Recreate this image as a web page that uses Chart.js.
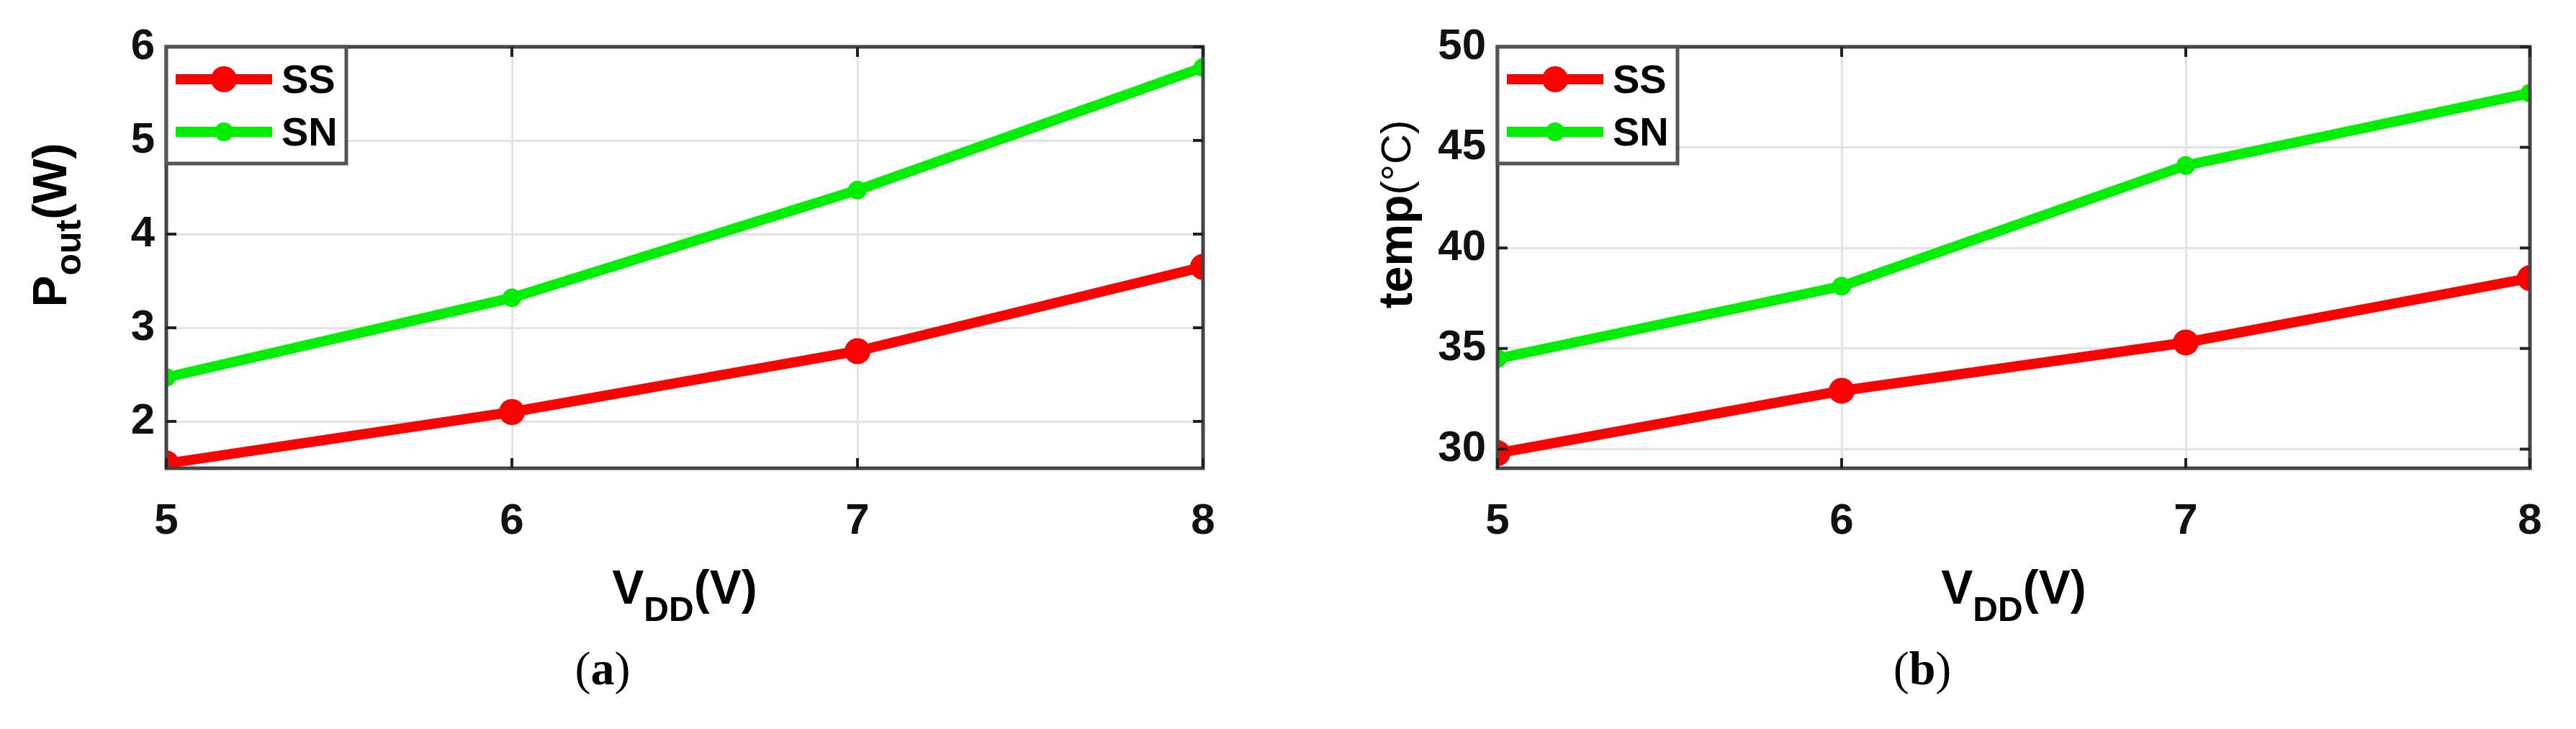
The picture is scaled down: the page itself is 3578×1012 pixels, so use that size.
<!DOCTYPE html>
<html><head><meta charset="utf-8">
<script src="https://cdn.jsdelivr.net/npm/chart.js@4"></script>
<style>
body{margin:0;background:#fff;width:3578px;height:1012px;overflow:hidden;position:relative}
canvas{position:absolute;top:0}
.cap{position:absolute;top:890px;font:66px "Liberation Serif",serif;transform:translateX(-50%)}
</style></head><body>
<canvas id="c1" style="left:0" width="1789" height="1012"></canvas>
<canvas id="c2" style="left:1789px" width="1789" height="1012"></canvas>
<div class="cap" style="left:837px">(<b>a</b>)</div>
<div class="cap" style="left:2670px">(<b>b</b>)</div>
<script>
const categories=[5,6,7,8];
const xTicks=[5,6,7,8];
const poutSS=[1.55,2.10,2.75,3.65];
const poutSN=[2.47,3.32,4.47,5.78];
const tempSS=[29.8,32.9,35.3,38.5];
const tempSN=[34.5,38.1,44.1,47.7];
const poutTicks=[2,3,4,5,6];
const tempTicks=[30,35,40,45,50];
const seriesNames=['SS','SN'];
const RED='#ff0000',GREEN='#00ee00';
const TF='"Liberation Sans Narrow","Liberation Sans",Arial,sans-serif';

function mkPlugin(yTitleFn,xCenterFix){
 return {id:'deco',afterDraw(ch){
  const c=ch.ctx,a=ch.chartArea;
  c.save();
  c.strokeStyle='#444';c.lineWidth=5;c.strokeRect(a.left,a.top,a.right-a.left,a.bottom-a.top);
  c.lineWidth=4;c.strokeStyle='#222';
  ch.scales.y.ticks.forEach(t=>{const y=ch.scales.y.getPixelForValue(t.value);
   c.beginPath();c.moveTo(a.left,y);c.lineTo(a.left+14,y);c.moveTo(a.right,y);c.lineTo(a.right-14,y);c.stroke();});
  ch.scales.x.ticks.forEach(t=>{const x=ch.scales.x.getPixelForValue(t.value);
   c.beginPath();c.moveTo(x,a.bottom);c.lineTo(x,a.bottom-14);c.moveTo(x,a.top);c.lineTo(x,a.top+14);c.stroke();});
  const lx=a.left,ly=a.top,lw=250,lh=162;
  c.fillStyle='#fff';c.fillRect(lx,ly,lw,lh);
  c.strokeStyle='#555';c.lineWidth=5;c.strokeRect(lx,ly,lw,lh);
  [[RED,18,'SS',ly+45],[GREEN,13,'SN',ly+118]].forEach(([col,r,txt,yy])=>{
   c.strokeStyle=col;c.lineWidth=14;c.beginPath();c.moveTo(lx+13,yy);c.lineTo(lx+147,yy);c.stroke();
   c.fillStyle=col;c.beginPath();c.arc(lx+80,yy,r,0,Math.PI*2);c.fill();
   c.fillStyle='#000';c.font='bold 56px '+TF;c.textBaseline='middle';c.textAlign='left';c.fillText(txt,lx+160,yy+4);
  });
  const cx=(a.left+a.right)/2+xCenterFix;
  c.fillStyle='#000';c.textBaseline='alphabetic';
  c.font='bold 66px '+TF;const w1=c.measureText('V').width;
  c.font='bold 48px '+TF;const w2=c.measureText('DD').width;
  c.font='bold 66px '+TF;const w3=c.measureText('(V)').width;
  let x0=cx-(w1+w2+w3)/2;
  c.textAlign='left';
  c.fillText('V',x0,838);c.font='bold 48px '+TF;c.fillText('DD',x0+w1,862);
  c.font='bold 66px '+TF;c.fillText('(V)',x0+w1+w2,838);
  yTitleFn(c,a);
  c.restore();
 }};
}
function yTitleP(c,a){
 c.save();c.translate(92,(a.top+a.bottom)/2-45);c.rotate(-Math.PI/2);
 c.fillStyle='#000';c.textAlign='left';
 c.font='bold 66px "Liberation Sans",Arial';const w1=c.measureText('P').width;
 c.font='bold 50px "Liberation Sans",Arial';const w2=c.measureText('out').width;
 c.font='bold 66px "Liberation Sans",Arial';const w3=c.measureText('(W)').width;
 let x0=-(w1+w2+w3)/2;
 c.fillText('P',x0,0);c.font='bold 50px "Liberation Sans",Arial';c.fillText('out',x0+w1,20);
 c.font='bold 66px "Liberation Sans",Arial';c.fillText('(W)',x0+w1+w2,0);
 c.restore();
}
function yTitleT(c,a){
 c.save();c.translate(172,(a.top+a.bottom)/2-60);c.rotate(-Math.PI/2);
 c.fillStyle='#000';c.textAlign='left';
 c.font='bold 66px "Liberation Sans",Arial';const w1=c.measureText('temp').width;
 c.font='58px "Liberation Sans",Arial';const w2=c.measureText('(°C)').width;
 let x0=-(w1+w2)/2;
 c.font='bold 66px "Liberation Sans",Arial';c.fillText('temp',x0,0);
 c.font='58px "Liberation Sans",Arial';c.fillText('(°C)',x0+w1,-2);
 c.restore();
}
function mk(id,ss,sn,ymin,ymax,yTicks,yw,padL,padR,yTitle,xfix){
 new Chart(document.getElementById(id),{type:'line',
  data:{datasets:[
   {label:seriesNames[0],data:categories.map((x,i)=>({x,y:ss[i]})),borderColor:RED,backgroundColor:RED,borderWidth:14,pointRadius:18,pointBorderWidth:0,pointBackgroundColor:RED},
   {label:seriesNames[1],data:categories.map((x,i)=>({x,y:sn[i]})),borderColor:GREEN,backgroundColor:GREEN,borderWidth:14,pointRadius:13,pointBorderWidth:0,pointBackgroundColor:GREEN}]},
  options:{responsive:false,animation:false,devicePixelRatio:1,
   layout:{padding:{left:padL,right:padR,top:65,bottom:120}},
   plugins:{legend:{display:false},tooltip:{enabled:false}},
   elements:{line:{tension:0}},
   scales:{
    x:{type:'linear',min:5,max:8,afterBuildTicks:s=>{s.ticks=xTicks.map(v=>({value:v}));},
     grid:{color:'#e4e4e4',lineWidth:3,drawTicks:false},border:{display:false},
     ticks:{padding:38,color:'#111',font:{family:TF,size:60,weight:'bold'}},
     afterFit:s=>{s.height=242;}},
    y:{min:ymin,max:ymax,afterBuildTicks:s=>{s.ticks=yTicks.map(v=>({value:v}));},
     grid:{color:'#e4e4e4',lineWidth:3,drawTicks:false},border:{display:false},
     ticks:{padding:16,color:'#111',font:{family:TF,size:60,weight:'bold'}},
     afterFit:s=>{s.width=yw;}}}},
  plugins:[mkPlugin(yTitle,xfix)]});
}
mk('c1',poutSS,poutSN,1.5,6,poutTicks,231,0,118,yTitleP,0);
mk('c2',tempSS,tempSN,29.05,50,tempTicks,291,0,64,yTitleT,0);
</script></body></html>
